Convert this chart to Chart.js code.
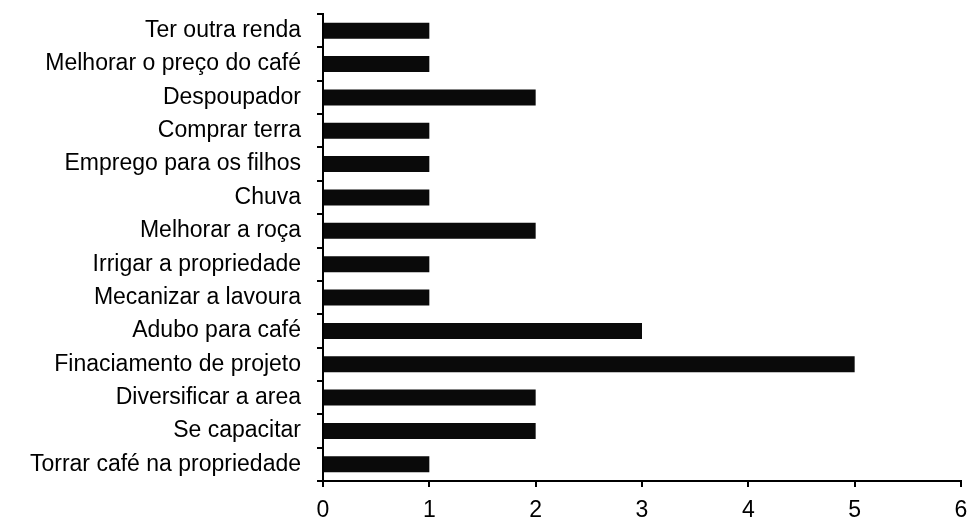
<!DOCTYPE html>
<html>
<head>
<meta charset="utf-8">
<script src="https://cdn.jsdelivr.net/npm/chart.js@4"></script>
<style>
  html, body { margin: 0; padding: 0; background: #fff; }
  #wrap { width: 967px; height: 518px; }
</style>
</head>
<body>
<div id="wrap"><canvas id="chart" width="967" height="518"></canvas></div>
<script>
// Categories, top to bottom as in the picture
const categories = [
    'Ter outra renda',
    'Melhorar o preço do café',
    'Despoupador',
    'Comprar terra',
    'Emprego para os filhos',
    'Chuva',
    'Melhorar a roça',
    'Irrigar a propriedade',
    'Mecanizar a lavoura',
    'Adubo para café',
    'Finaciamento de projeto',
    'Diversificar a area',
    'Se capacitar',
    'Torrar café na propriedade'
];
const counts = [1, 1, 2, 1, 1, 1, 2, 1, 1, 3, 5, 2, 2, 1];
const xTicks = [0, 1, 2, 3, 4, 5, 6];

const ctx = document.getElementById('chart');
const labelFont = { family: 'Liberation Sans, Arial', size: 23 };

new Chart(ctx, {
    type: 'bar',
    data: {
        labels: categories,
        datasets: [{
            data: counts,
            backgroundColor: '#0a0a0a',
            borderWidth: 0,
            barPercentage: 0.96,
            categoryPercentage: 0.5
        }]
    },
    options: {
        indexAxis: 'y',
        responsive: false,
        animation: false,
        layout: {
            padding: { top: 0, right: 0, bottom: 0, left: 0 }
        },
        plugins: {
            legend: { display: false },
            tooltip: { enabled: false }
        },
        scales: {
            x: {
                min: 0,
                max: 6,
                afterBuildTicks: function(axis) {
                    axis.ticks = xTicks.map(v => ({ value: v }));
                },
                afterFit: function(axis) {
                    axis.height = 37;  // puts the axis line near y=481
                    axis.paddingRight = 6;
                },
                border: { color: '#000', width: 2 },
                grid: {
                    drawOnChartArea: false,
                    color: '#000',
                    lineWidth: 2,
                    tickLength: 6
                },
                ticks: {
                    color: '#000',
                    padding: 10,
                    maxRotation: 0,
                    font: labelFont
                }
            },
            y: {
                afterFit: function(axis) {
                    axis.width = 323;  // axis line near x=323
                    axis.paddingTop = 14;
                    axis.paddingBottom = 0;
                },
                border: { color: '#000', width: 2 },
                grid: {
                    drawOnChartArea: false,
                    offset: true,
                    color: '#000',
                    lineWidth: 2,
                    tickLength: 6
                },
                ticks: {
                    color: '#000',
                    padding: 16,
                    autoSkip: false,
                    font: labelFont
                }
            }
        }
    }
});
</script>
</body>
</html>
